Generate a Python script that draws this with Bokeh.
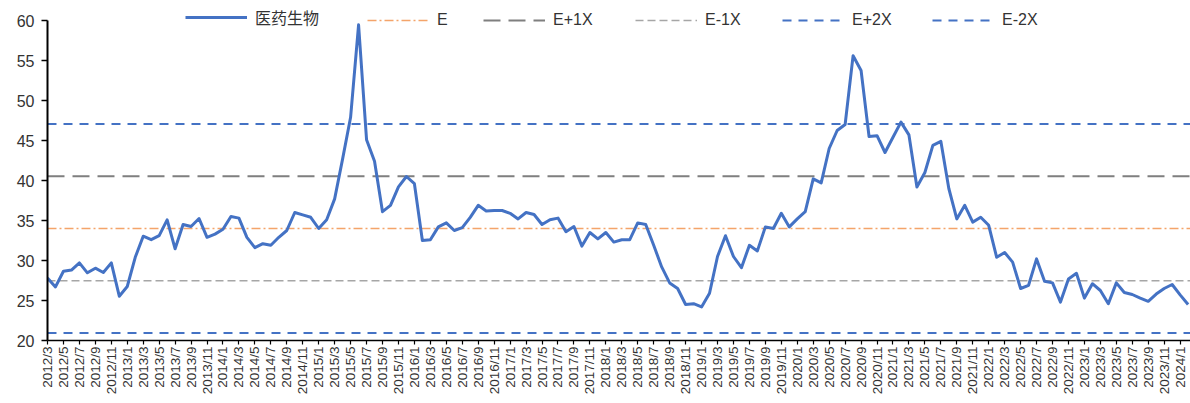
import math
from bokeh.plotting import figure
from bokeh.models import Range1d, FixedTicker, Legend, LegendItem
from bokeh.embed import file_html
from bokeh.resources import INLINE

# ---- data ----
start_year, start_month = 2012, 3
n_months = 144
months = []
for k in range(n_months):
    m = start_month - 1 + k
    months.append(f"{start_year + m // 12}/{m % 12 + 1}")

pe_values = [
    27.8, 26.7, 28.66, 28.8, 29.7, 28.46, 29.04, 28.5, 29.7, 25.54, 26.75, 30.4,
    33.04, 32.6, 33.1, 35.08, 31.46, 34.5, 34.25, 35.25, 32.9, 33.3, 33.9, 35.5,
    35.3, 32.9, 31.6, 32.1, 31.9, 32.9, 33.75, 36.0, 35.7, 35.4, 34.0, 35.1,
    37.7, 42.7, 47.9, 59.46, 45.1, 42.4, 36.1, 36.9, 39.2, 40.5, 39.6, 32.5,
    32.6, 34.2, 34.7, 33.75, 34.1, 35.4, 36.9, 36.2, 36.25, 36.25, 35.9, 35.2,
    36.0, 35.75, 34.5, 35.1, 35.3, 33.6, 34.25, 31.8, 33.5, 32.7, 33.5, 32.3,
    32.6, 32.6, 34.7, 34.5, 31.9, 29.2, 27.2, 26.5, 24.5, 24.6, 24.2, 25.9,
    30.5, 33.1, 30.5, 29.1, 31.9, 31.2, 34.2, 34.0, 35.9, 34.2, 35.2, 36.1,
    40.2, 39.7, 44.0, 46.25, 47.0, 55.6, 53.75, 45.5, 45.6, 43.5, 45.4, 47.3,
    45.7, 39.2, 41.0, 44.4, 44.9, 39.0, 35.2, 36.9, 34.8, 35.4, 34.4, 30.4,
    31.0, 29.8, 26.5, 26.9, 30.2, 27.4, 27.2, 24.8, 27.7, 28.4, 25.3, 27.1,
    26.25, 24.6, 27.2, 26.0, 25.75, 25.3, 24.9, 25.8, 26.5, 27.0, 25.7, 24.5,
]

series_name = "医药生物"
level_names = ["E", "E+1X", "E-1X", "E+2X", "E-2X"]
level_values = [34.0, 40.53, 27.47, 47.06, 20.94]
y_ticks = [20, 25, 30, 35, 40, 45, 50, 55, 60]

# ---- styles ----
level_styles = {
    "E": dict(color="#F4A46A", dash="9 3 2 3", width=1.4),
    "E+1X": dict(color="#7F7F7F", dash="17 8", width=2.0),
    "E-1X": dict(color="#A6A6A6", dash="8 4", width=1.5),
    "E+2X": dict(color="#4472C4", dash="9 7", width=2.0),
    "E-2X": dict(color="#4472C4", dash="9 7", width=2.0),
}
line_color = "#4472C4"

x_idx = list(range(len(pe_values)))
x_lo, x_hi = 0, 143.3
y_lo, y_hi = y_ticks[0], y_ticks[-1]
y_top_pad = 2.0  # headroom above top tick so the legend is not clipped

p = figure(width=1190, height=403, output_backend="svg", toolbar_location=None,
           title=None,
           x_range=Range1d(x_lo, x_hi), y_range=Range1d(y_lo, y_hi + y_top_pad),
           min_border_left=47, min_border_right=0, min_border_top=4,
           min_border_bottom=63)
p.outline_line_color = None
p.background_fill_color = "white"
p.border_fill_color = "white"
p.xgrid.visible = False
p.ygrid.visible = False

# y axis
p.yaxis.ticker = FixedTicker(ticks=y_ticks)
p.yaxis.bounds = (y_lo, y_hi)
p.yaxis.axis_line_color = "black"
p.yaxis.axis_line_width = 2
p.yaxis.major_tick_line_color = "black"
p.yaxis.major_tick_line_width = 1.5
p.yaxis.major_tick_out = 6
p.yaxis.major_tick_in = 0
p.yaxis.minor_tick_line_color = None
p.yaxis.major_label_standoff = 7
p.yaxis.major_label_text_font = "Liberation Sans"
p.yaxis.major_label_text_font_size = "16px"
p.yaxis.major_label_text_color = "#333333"

# x axis
tick_pos = list(range(0, len(months), 2))
p.xaxis.ticker = FixedTicker(ticks=tick_pos)
p.xaxis.major_label_overrides = {i: months[i] for i in tick_pos}
p.xaxis.major_label_orientation = math.pi / 2
p.xaxis.axis_line_color = "black"
p.xaxis.axis_line_width = 1.5
p.xaxis.major_tick_line_color = "black"
p.xaxis.major_tick_line_width = 1.2
p.xaxis.major_tick_out = 4
p.xaxis.major_tick_in = 0
p.xaxis.minor_tick_line_color = None
p.xaxis.major_label_standoff = 2
p.xaxis.major_label_text_font = "Liberation Sans"
p.xaxis.major_label_text_font_size = "13.5px"
p.xaxis.major_label_text_color = "#333333"

# level lines
level_renderers = []
for name, val in zip(level_names, level_values):
    st = level_styles[name]
    r = p.line(x=[x_lo, x_hi], y=[val, val], line_color=st["color"],
               line_dash=st["dash"], line_width=st["width"])
    level_renderers.append(r)

main = p.line(x=x_idx, y=pe_values, line_color=line_color, line_width=3,
              line_join="round")

# legends: one per item for exact placement
legend_x = [138, 320, 436, 588, 735, 885]
all_items = [(series_name, main)] + list(zip(level_names, level_renderers))
for (label, r), lx in zip(all_items, legend_x):
    font = "Noto Sans CJK SC" if label == series_name else "Liberation Sans"
    lg = Legend(items=[LegendItem(label=label, renderers=[r])],
                location=(lx, 311), orientation="horizontal",
                padding=0, margin=0, spacing=0,
                glyph_width=62, glyph_height=18, label_height=18,
                label_standoff=8,
                label_text_font=font, label_text_font_size="16px",
                label_text_color="#333333",
                border_line_color=None, background_fill_alpha=0)
    p.add_layout(lg, "center")

open("out.html", "w").write(file_html(p, INLINE))
